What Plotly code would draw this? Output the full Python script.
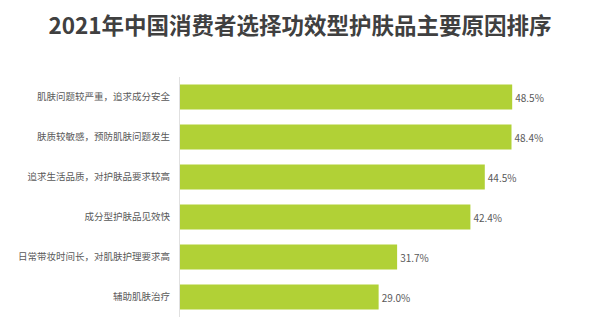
import plotly.graph_objects as go

categories = ["肌肤问题较严重，追求成分安全", "肤质较敏感，预防肌肤问题发生", "追求生活品质，对护肤品要求较高",
              "成分型护肤品见效快", "日常带妆时间长，对肌肤护理要求高", "辅助肌肤治疗"]
values = [48.5, 48.4, 44.5, 42.4, 31.7, 29.0]
labels = [f"{v:.1f}%" for v in values]

font = "Noto Sans CJK SC"
fig = go.Figure(go.Bar(
    x=values, y=categories, orientation="h",
    marker=dict(color="#b1d136", line=dict(width=0)),
    text=labels, textposition="outside", cliponaxis=False,
    textfont=dict(size=10, color="#595959", family=font),
    width=0.625,
))
fig.update_layout(
    width=600, height=336,
    margin=dict(l=180, r=20, t=77, b=19),
    paper_bgcolor="white", plot_bgcolor="white",
    title=dict(text="<b>2021年中国消费者选择功效型护肤品主要原因排序</b>", x=0.5, xanchor="center",
               y=1 - 26/336, yanchor="middle",
               font=dict(size=22.5, color="#404040", family=font)),
    xaxis=dict(range=[0, 58.4], visible=False),
    yaxis=dict(autorange="reversed", showline=True, linecolor="#e0e0e0", linewidth=1,
               ticks="", ticklabelstandoff=7, showgrid=False, automargin=False,
               tickfont=dict(size=9.5, color="#595959", family=font)),
    showlegend=False,
)
fig.write_html("out.html")
